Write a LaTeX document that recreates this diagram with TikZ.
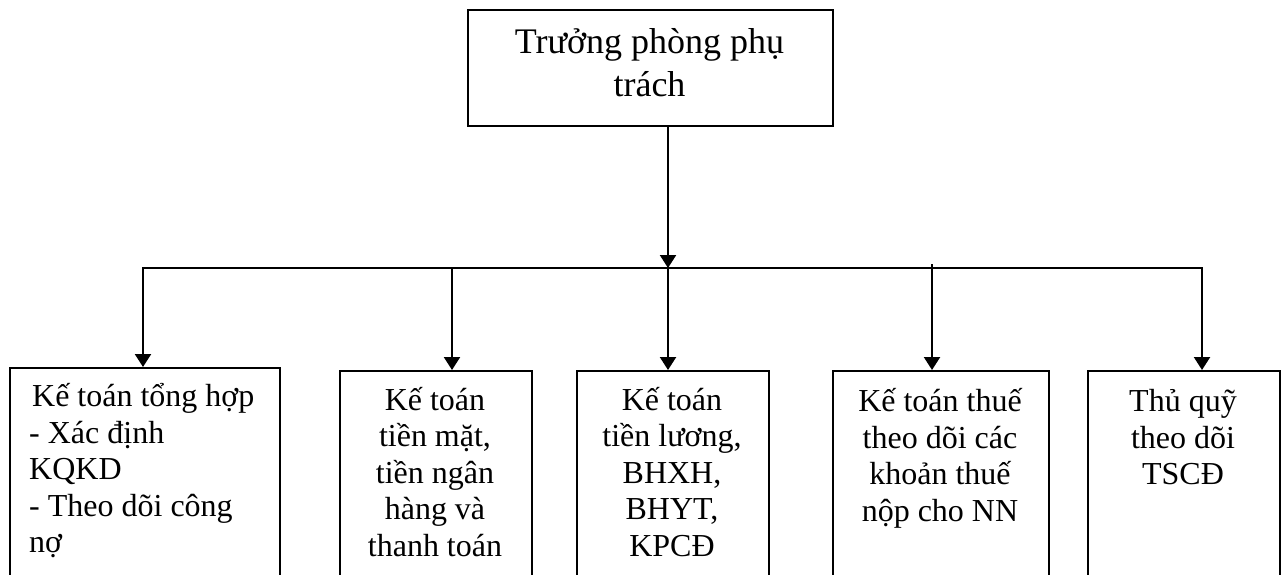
\documentclass[tikz,border=0pt]{standalone}
\usepackage{fontspec}
\setmainfont{Liberation Serif}
\usetikzlibrary{arrows.meta}
\begin{document}
\begin{tikzpicture}[x=1pt,y=-1pt,
  box/.style={draw, line width=2.2pt, rectangle, inner sep=0pt, anchor=north west},
  headtext/.style={inner sep=0pt, anchor=north, align=center, font=\fontsize{36}{43.4}\selectfont},
  boxtext/.style={inner sep=0pt, anchor=north, align=center, font=\fontsize{32}{36.5}\selectfont},
  link/.style={line width=2.3pt},
  arr/.style={link, -{Triangle[length=13pt,width=16pt]}}]
\useasboundingbox (0,0) rectangle (1284,575);
\clip (0,0) rectangle (1284,575);

% head of the department
\node[box, minimum width=365pt, minimum height=116pt] (head) at (467,9) {};
\node[headtext] (headt) at (649.5,17.3) {\rule{0pt}{36pt}Trưởng phòng phụ\\trách};

% staff boxes (open at the bottom of the page)
\node[box, minimum width=270pt, minimum height=230pt] (b1) at (9,367) {};
\node[box, minimum width=192pt, minimum height=230pt] (b2) at (339,370) {};
\node[box, minimum width=192pt, minimum height=230pt] (b3) at (576,370) {};
\node[box, minimum width=216pt, minimum height=230pt] (b4) at (832,370) {};
\node[box, minimum width=192pt, minimum height=230pt] (b5) at (1087,370) {};

\node[boxtext, anchor=north west, align=left] (t1) at (29,374.7)
  {\rule{0pt}{32pt}\hspace{3pt}Kế toán tổng hợp\\- Xác định\\KQKD\\- Theo dõi công\\nợ};
\node[boxtext] (t2) at (435,378) {\rule{0pt}{32pt}Kế toán\\tiền mặt,\\tiền ngân\\hàng và\\thanh toán};
\node[boxtext] (t3) at (672,378) {\rule{0pt}{32pt}Kế toán\\tiền lương,\\BHXH,\\BHYT,\\KPCĐ};
\node[boxtext] (t4) at (940,379.7) {\rule{0pt}{32pt}Kế toán thuế\\theo dõi các\\khoản thuế\\nộp cho NN};
\node[boxtext] (t5) at (1183,379.7) {\rule{0pt}{32pt}Thủ quỹ\\theo dõi\\TSCĐ};

% distribution bus
\coordinate (j1) at (143,268);
\coordinate (j2) at (452,268);
\coordinate (j3) at (668,268);
\coordinate (j4) at (932,268);
\coordinate (j5) at (1202,268);

\draw[arr] (head.south -| j3) -- (j3);
\draw[arr] (j3) -- (j1) -- (b1.north -| j1);
\draw[arr] (j3) -- (j5) -- (b5.north -| j5);
\draw[arr] (j2) -- (b2.north -| j2);
\draw[arr] (j3) -- (b3.north -| j3);
\draw[arr] ([yshift=4pt]j4) -- (b4.north -| j4);
\end{tikzpicture}
\end{document}
